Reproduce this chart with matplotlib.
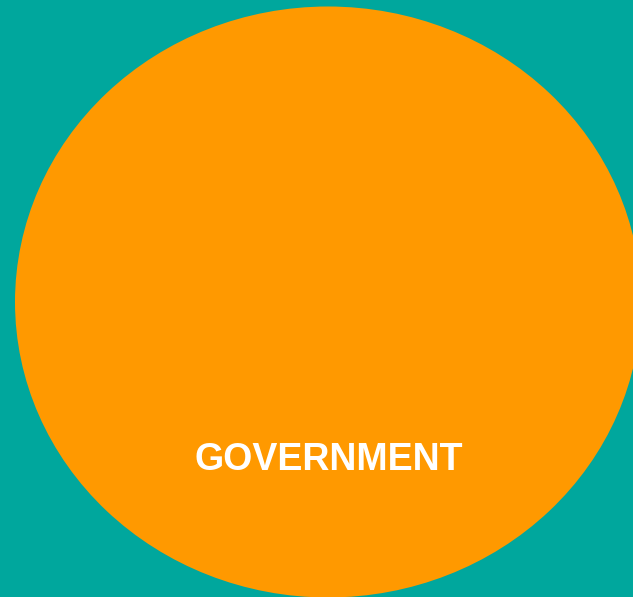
import matplotlib.pyplot as plt
from matplotlib.patches import Ellipse

# data
labels = ["GOVERNMENT"]

fig = plt.figure(figsize=(6.33, 5.97), dpi=100)
fig.patch.set_facecolor("#00A79D")
ax = fig.add_axes([0, 0, 1, 1])
ax.set_xlim(0, 633)
ax.set_ylim(597, 0)
ax.axis("off")

ax.add_patch(Ellipse((328, 302), 626, 591, facecolor="#FF9900", edgecolor="none"))
ax.text(329, 460, labels[0], color="white", fontsize=27, fontweight="bold",
        family="Liberation Sans", ha="center", va="center")

fig.savefig("out.png", dpi=100, facecolor=fig.get_facecolor())
